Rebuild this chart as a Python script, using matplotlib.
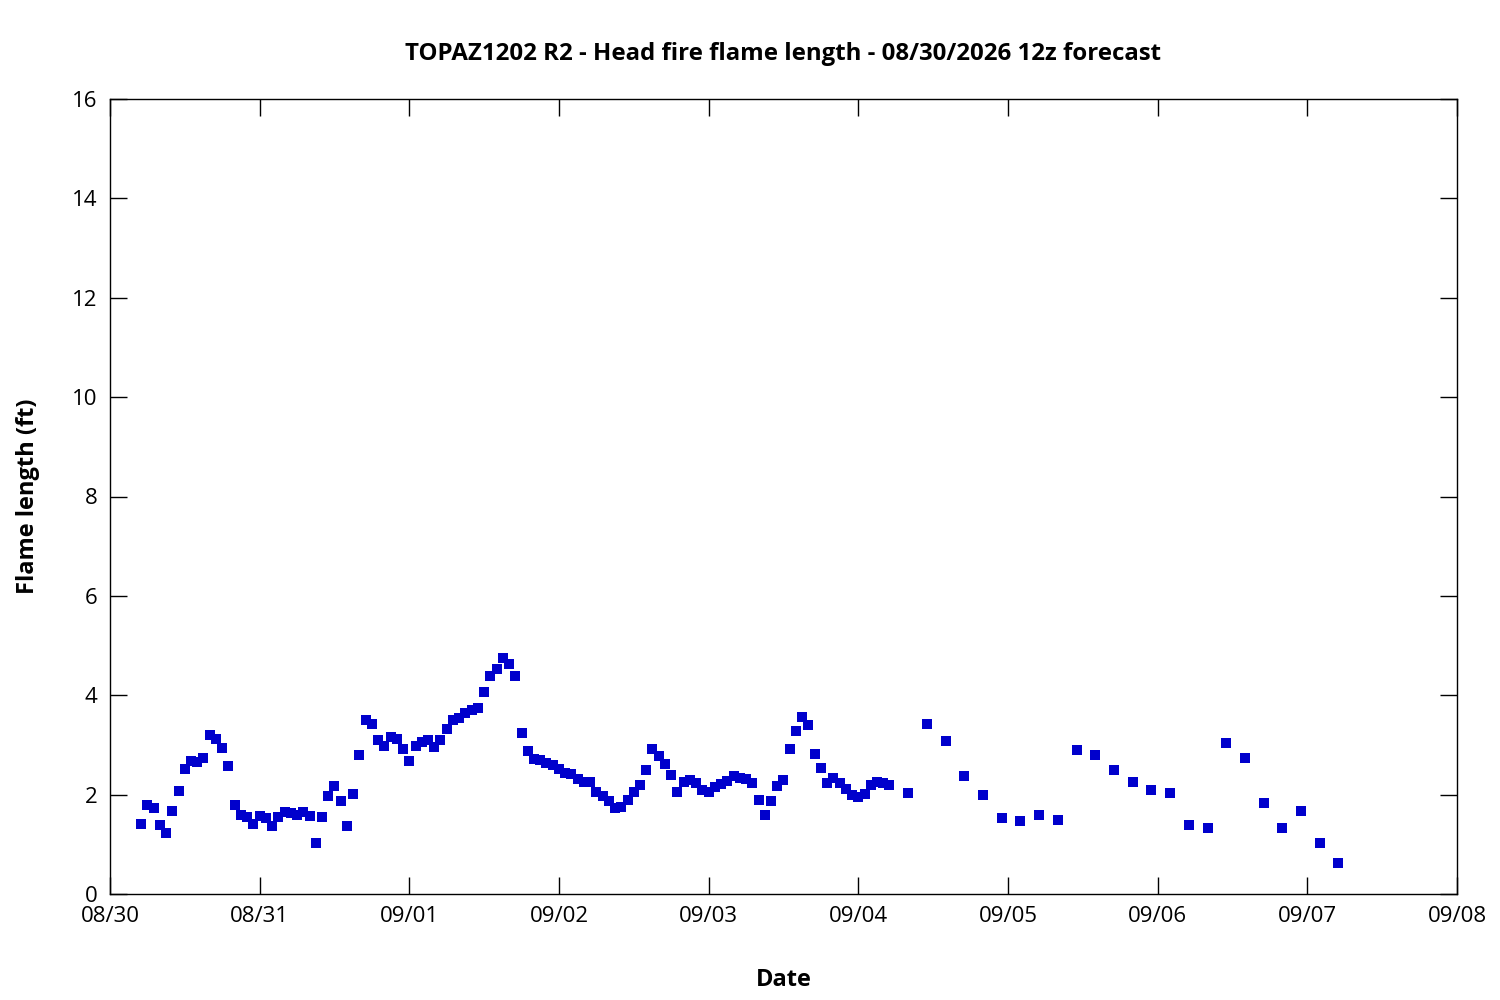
import datetime as dt
import matplotlib
matplotlib.use('Agg')
import matplotlib.pyplot as plt
import matplotlib.dates as mdates
import numpy as np

plt.rcParams['font.family'] = ['Open Sans', 'Noto Sans', 'DejaVu Sans']

# hours after 08/30 00:00 -- hourly first, then every 3 hours
hours_hourly = list(range(5, 126))
hours_3h = list(range(128, 198, 3))

flame_hourly = [
    1.40, 1.80, 1.74, 1.38, 1.22, 1.68, 2.07, 2.51, 2.67, 2.65,
    2.73, 3.19, 3.11, 2.93, 2.57, 1.80, 1.58, 1.54, 1.40, 1.56,
    1.52, 1.36, 1.54, 1.66, 1.64, 1.58, 1.66, 1.56, 1.02, 1.54,
    1.97, 2.17, 1.87, 1.36, 2.01, 2.79, 3.50, 3.42, 3.09, 2.97,
    3.15, 3.11, 2.91, 2.67,
    2.97, 3.05, 3.09, 2.95, 3.09, 3.33, 3.51, 3.55, 3.65, 3.70,
    3.74, 4.06, 4.38, 4.52, 4.74, 4.62, 4.38, 3.25, 2.87, 2.71,
    2.69, 2.63, 2.59, 2.51, 2.43, 2.41, 2.31, 2.25, 2.25, 2.05,
    1.97, 1.87, 1.74, 1.76, 1.89, 2.05, 2.19, 2.49, 2.91, 2.77,
    2.61, 2.39, 2.05, 2.25, 2.29, 2.23,
    2.09, 2.05, 2.15, 2.21, 2.27, 2.37, 2.33, 2.31, 2.23, 1.89,
    1.60, 1.87, 2.17, 2.29, 2.91, 3.29, 3.56, 3.40, 2.82, 2.53,
    2.23, 2.33, 2.23, 2.11, 1.99, 1.95, 2.01, 2.19, 2.25, 2.23,
    2.19,
]
flame_3h = [
    2.03, 3.42, 3.07, 2.37, 1.99, 1.52, 1.46, 1.60, 1.48, 2.89,
    2.79, 2.49, 2.25, 2.09, 2.03, 1.38, 1.32, 3.03, 2.73, 1.83,
    1.32, 1.68, 1.02, 0.62,
]

start = dt.datetime(2026, 8, 30)
hours = hours_hourly + hours_3h
flame = flame_hourly + flame_3h
times = [start + dt.timedelta(hours=h) for h in hours]

fig = plt.figure(figsize=(15, 10), dpi=100)
ax = fig.add_axes([0.0733, 0.106, 0.898, 0.795])

ax.plot(times, flame, linestyle='none', marker='s', markersize=6.5,
        color='#0000cc', markeredgewidth=0)

ax.set_xlim(start, start + dt.timedelta(days=9))
ax.set_ylim(0, 16)
ax.set_yticks(np.arange(0, 17, 2))
ax.xaxis.set_major_locator(mdates.DayLocator())
ax.xaxis.set_major_formatter(mdates.DateFormatter('%m/%d'))

ax.tick_params(direction='in', length=12, width=1, top=True, right=True,
               labelsize=16, pad=9)
for s in ax.spines.values():
    s.set_linewidth(1)

ax.set_title('TOPAZ1202 R2 - Head fire flame length - 08/30/2026 12z forecast',
             fontsize=17.3, fontweight='bold', pad=28)
ax.set_xlabel('Date', fontsize=17, fontweight='bold', labelpad=29)
ax.set_ylabel('Flame length (ft)', fontsize=17, fontweight='bold', labelpad=23)

plt.savefig('out.png', dpi=100)
